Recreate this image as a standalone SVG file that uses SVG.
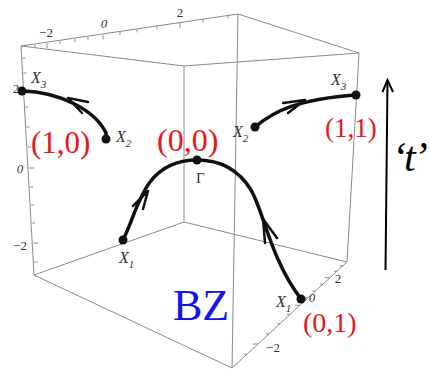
<svg xmlns="http://www.w3.org/2000/svg" width="430" height="371" viewBox="0 0 430 371">
<defs>
<style>
.box{stroke:#8a8a8a;stroke-width:1;fill:none}
.tick{stroke:#8a8a8a;stroke-width:1}
.ax{font-family:"Liberation Serif",serif;font-size:13px;fill:#333}
.it{font-style:italic}
.pt{font-family:"Liberation Serif",serif;font-style:italic;font-size:16px;fill:#333}
.sub{font-size:11px}
.gam{font-family:"Liberation Serif",serif;font-size:15px;fill:#333}
.red{font-family:"Liberation Serif",serif;fill:#e8141a}
.curve{stroke:#111;stroke-width:3.5;fill:none;stroke-linecap:round}
.chev{stroke:#111;stroke-width:2.5;fill:none;stroke-linecap:round;stroke-linejoin:round}
.dot{fill:#111}
</style>
</defs>
<rect width="430" height="371" fill="#fff"/>
<g id="box">
<polyline class="box" points="34,275 184,222 347,262"/>
<line class="box" x1="184" y1="66" x2="184" y2="222"/>
<polygon class="box" points="21,46 238,14 359,53 184,66"/>
<line class="box" x1="21" y1="46" x2="34" y2="275"/>
<line class="box" x1="359" y1="53" x2="347" y2="262"/>
<line class="box" x1="238" y1="14" x2="232" y2="368"/>
<polyline class="box" points="34,275 232,368 347,262"/>
<g id="ticks">
<path class="tick" d="M35,45v3M47,43.2v5M60,41.2v3M75,38.9v3M88,36.9v3M103,34.6v5M120,32v3M137,29.4v3M157,26.3v3M180,22.9v5M203,19.3v3M228,15.5v3"/>
<path class="tick" d="M22.6,58h3M23.5,73h3M24.5,90h5M25.5,107h3M26.6,127h3M27.8,147h3M29,168h5M30,187h3M31.1,205h3M32.1,223h3M33.3,243h5M34.4,262h3"/>
<path class="tick" d="M247,354.2h-3M258,344h-5M269,333.9h-3M280,323.8h-3M290,314.5h-3M300,305.3h-5M308,298h-3M315.5,291h-3M323,284.1h-3M330,277.7h-5M337,271.2h-3M343,265.7h-3"/>
</g>
<g id="axis-labels" class="ax">
<text x="46" y="37" text-anchor="middle">−2</text>
<text x="104" y="28" text-anchor="middle" class="it">0</text>
<text x="180" y="17" text-anchor="middle">2</text>
<text x="16" y="93" text-anchor="middle">2</text>
<text x="20" y="173" text-anchor="middle" class="it">0</text>
<text x="20" y="250" text-anchor="middle">−2</text>
<text x="338" y="283" text-anchor="middle">2</text>
<text x="312" y="302" text-anchor="middle" class="it">0</text>
<text x="273" y="352" text-anchor="middle">−2</text>
</g>
</g>
<g id="connectors">
<path class="curve" d="M22,91 C60,92 95,110 106,133 L106,139"/>
<path class="chev" d="M88,102 L68,98 L82,113"/>
<path class="curve" d="M123,240 C132,222 138,198 150,182 C163,165 180,160 197,160 C222,160 240,172 251,190 C264,212 270,258 301,299"/>
<path class="chev" d="M133,206 L148,191 L143,209"/>
<path class="chev" d="M265,243 L263,219 L277,238"/>
<path class="curve" d="M255,127 C275,110 300,99 356,95"/>
<path class="chev" d="M283,103 L305,100 L288,113"/>
</g>
<g id="node-X3-left">
<circle class="dot" cx="22" cy="91" r="4.5"/>
<text class="pt" x="31" y="83">X<tspan class="sub" dy="5">3</tspan></text>
</g>
<g id="node-X2-left">
<circle class="dot" cx="106" cy="139" r="4.5"/>
<text class="pt" x="116" y="142">X<tspan class="sub" dy="5">2</tspan></text>
</g>
<g id="node-10">
<text class="red" x="31" y="153" font-size="31">(1,0)</text>
</g>
<g id="node-gamma">
<circle class="dot" cx="197" cy="160" r="4.5"/>
<text class="gam" x="196" y="183">Γ</text>
</g>
<g id="node-00">
<text class="red" x="157" y="151" font-size="32">(0,0)</text>
</g>
<g id="node-X1-left">
<circle class="dot" cx="123" cy="240" r="4.5"/>
<text class="pt" x="119" y="263">X<tspan class="sub" dy="5">1</tspan></text>
</g>
<g id="node-X1-right">
<circle class="dot" cx="301" cy="299" r="4.5"/>
<text class="pt" x="276" y="307">X<tspan class="sub" dy="5">1</tspan></text>
</g>
<g id="node-01">
<text class="red" x="303" y="332" font-size="28">(0,1)</text>
</g>
<g id="node-X2-right">
<circle class="dot" cx="255" cy="127" r="4.5"/>
<text class="pt" x="233" y="137">X<tspan class="sub" dy="5">2</tspan></text>
</g>
<g id="node-X3-right">
<circle class="dot" cx="356" cy="95" r="4.5"/>
<text class="pt" x="331" y="85">X<tspan class="sub" dy="5">3</tspan></text>
</g>
<g id="node-11">
<text class="red" x="325" y="137" font-size="27">(1,1)</text>
</g>
<g id="node-BZ">
<text x="173" y="320" font-family="Liberation Serif, serif" font-size="44" fill="#1414e6">BZ</text>
</g>
<g id="t-arrow">
<line x1="387.5" y1="81" x2="385.5" y2="270" stroke="#000" stroke-width="2"/>
<polyline points="382.5,92 387.5,80 393,92" fill="none" stroke="#000" stroke-width="2"/>
<text x="392" y="171" font-family="Liberation Serif, serif" font-style="italic" font-size="42" letter-spacing="-2" fill="#000">‘t’</text>
</g>
</svg>
